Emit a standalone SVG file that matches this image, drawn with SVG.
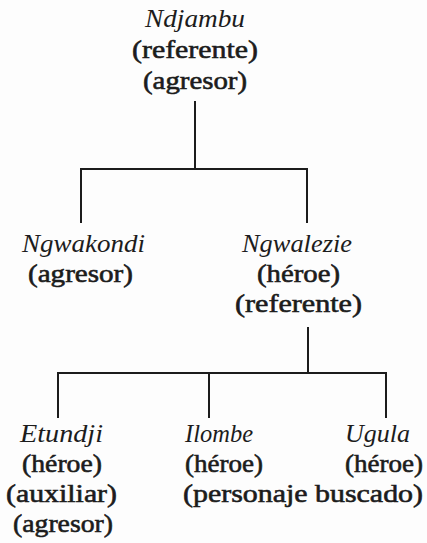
<svg xmlns="http://www.w3.org/2000/svg" width="427" height="543" viewBox="0 0 427 543">
<style>
text{font-family:"Liberation Serif","Times New Roman",serif;font-size:26px;fill:#1c1c1c}
.n{font-style:italic}
.r{stroke:#1c1c1c;stroke-width:0.6}
.c{stroke:#1c1c1c;stroke-width:2;fill:none;stroke-linecap:square}
</style>
<rect width="427" height="543" fill="#fdfdfd"/>
<g id="connectors">
<path class="c" d="M195 102V169M81 169H307M81 169V222M307 169V222"/>
<path class="c" d="M308 328V373M58 373H386M58 373V417M209 373V417M386 373V417"/>
</g>
<g id="ndjambu">
<text class="n" x="145" y="27" textLength="100" lengthAdjust="spacingAndGlyphs">Ndjambu</text>
<text class="r" x="132" y="58" textLength="126" lengthAdjust="spacingAndGlyphs">(referente)</text>
<text class="r" x="143" y="89" textLength="104" lengthAdjust="spacingAndGlyphs">(agresor)</text>
</g>
<g id="ngwakondi">
<text class="n" x="22" y="252" textLength="123" lengthAdjust="spacingAndGlyphs">Ngwakondi</text>
<text class="r" x="28" y="282" textLength="105" lengthAdjust="spacingAndGlyphs">(agresor)</text>
</g>
<g id="ngwalezie">
<text class="n" x="242" y="252" textLength="110" lengthAdjust="spacingAndGlyphs">Ngwalezie</text>
<text class="r" x="257" y="282" textLength="83" lengthAdjust="spacingAndGlyphs">(héroe)</text>
<text class="r" x="235" y="312" textLength="127" lengthAdjust="spacingAndGlyphs">(referente)</text>
</g>
<g id="etundji">
<text class="n" x="20" y="442" textLength="83" lengthAdjust="spacingAndGlyphs">Etundji</text>
<text class="r" x="22" y="472" textLength="80" lengthAdjust="spacingAndGlyphs">(héroe)</text>
<text class="r" x="6" y="502" textLength="111" lengthAdjust="spacingAndGlyphs">(auxiliar)</text>
<text class="r" x="13" y="532" textLength="100" lengthAdjust="spacingAndGlyphs">(agresor)</text>
</g>
<g id="ilombe">
<text class="n" x="185" y="442" textLength="68" lengthAdjust="spacingAndGlyphs">Ilombe</text>
<text class="r" x="185" y="472" textLength="78" lengthAdjust="spacingAndGlyphs">(héroe)</text>
<text class="r" x="183" y="502" textLength="240" lengthAdjust="spacingAndGlyphs">(personaje buscado)</text>
</g>
<g id="ugula">
<text class="n" x="345" y="442" textLength="65" lengthAdjust="spacingAndGlyphs">Ugula</text>
<text class="r" x="345" y="472" textLength="78" lengthAdjust="spacingAndGlyphs">(héroe)</text>
</g>
</svg>
